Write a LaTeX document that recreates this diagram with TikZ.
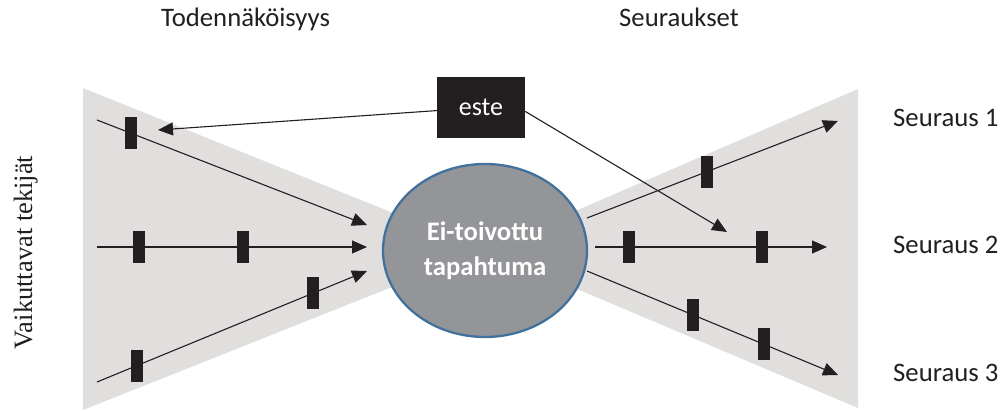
\documentclass[tikz,border=0pt]{standalone}
\usepackage{fontspec}
\setmainfont{Carlito}
\newfontfamily\serifed{Liberation Serif}
\usetikzlibrary{arrows.meta,shapes.geometric}
\definecolor{bowgray}{RGB}{224,223,222}
\definecolor{evgray}{RGB}{147,149,152}
\definecolor{evblue}{RGB}{65,113,156}
\definecolor{ink}{RGB}{35,31,32}
\begin{document}
\begin{tikzpicture}[x=1pt,y=-1pt,
  lbl/.style={inner sep=0pt, anchor=base west, text=ink, font=\fontsize{26.7}{32}\selectfont},
  barr/.style={fill=ink, minimum width=12pt, minimum height=32pt, inner sep=0pt, draw=none},
  conn/.style={draw=ink, line width=1.1pt, -{Triangle[length=15pt,width=13pt]}},
]
\useasboundingbox (0,0) rectangle (1002,411);
% bow-tie background
\fill[bowgray] (83,88) -- (83,410) -- (485,250) -- cycle;
\fill[bowgray] (858,89) -- (858,408) -- (485,250) -- cycle;

% headings and labels
\node[lbl] (hleft) at (161,27) {Todennäköisyys};
\node[lbl] (hright) at (619,27) {Seuraukset};
\node[lbl] (s1) at (893,127) {Seuraus 1};
\node[lbl] (s2) at (893,254) {Seuraus 2};
\node[lbl] (s3) at (893,382) {Seuraus 3};
\node[rotate=90, anchor=base, inner sep=0pt, text=ink,
      font=\serifed\fontsize{26.5}{30}\selectfont] (vt) at (32,252.5) {Vaikuttavat tekijät};

% central event
\node[ellipse, fill=evgray, draw=evblue, line width=2.3pt, minimum width=204pt,
      minimum height=173pt, inner sep=0pt, text=white, align=center,
      font=\bfseries\fontsize{26.7}{35}\selectfont] (event) at (485,250.5) {Ei-toivottu\\tapahtuma};

% barrier box
\node[fill=ink, minimum width=88pt, minimum height=61pt, inner sep=0pt, text=white,
      font=\fontsize{26}{30}\selectfont] (este) at (481,107.5) {este};

% end points
\coordinate (l1s) at (97,120);  \coordinate (l1e) at (367,225);
\coordinate (l2s) at (97,247);  \coordinate (l2e) at (367,247);
\coordinate (l3s) at (97,382);  \coordinate (l3e) at (367,271);
\coordinate (r1s) at (587,218); \coordinate (r1e) at (838,121);
\coordinate (r2s) at (595,247); \coordinate (r2e) at (827,247);
\coordinate (r3s) at (587,271); \coordinate (r3e) at (838,375);
\coordinate (ea) at (158,130);
\coordinate (eb) at (727,232);

% left arrows
\draw[conn] (l1s) -- node[barr,pos=0.126] (b1) {} (l1e);
\draw[conn] (l2s) -- node[barr,pos=0.156] (b2) {} node[barr,pos=0.541] (b3) {} (l2e);
\draw[conn] (l3s) -- node[barr,pos=0.148] (b4) {} node[barr,pos=0.8] (b5) {} (l3e);
% right arrows
\draw[conn] (r1s) -- node[barr,pos=0.478] (b6) {} (r1e);
\draw[conn] (r2s) -- node[barr,pos=0.147] (b7) {} node[barr,pos=0.72] (b8) {} (r2e);
\draw[conn] (r3s) -- node[barr,pos=0.422] (b9) {} node[barr,pos=0.705] (b10) {} (r3e);
% barrier arrows
\draw[conn] (este.184.5) -- (ea);
\draw[conn] (este.-5.8) -- (eb);
\end{tikzpicture}
\end{document}
